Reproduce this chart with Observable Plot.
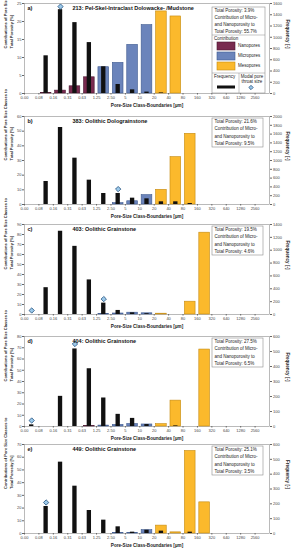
<!DOCTYPE html>
<html><head><meta charset="utf-8">
<script src="https://cdn.jsdelivr.net/npm/d3@7"></script>
<script src="https://cdn.jsdelivr.net/npm/@observablehq/plot@0.6"></script>
<style>
html,body{margin:0;padding:0;background:#fff;}
#chart{position:relative;width:291px;height:550px;overflow:hidden;font-family:"Liberation Sans",Arial,sans-serif;}
#chart .panel{position:absolute;left:0;}
#chart svg{overflow:visible;}
#overlay{position:absolute;left:0;top:0;pointer-events:none;}
</style>
</head><body>
<div id="chart"></div>
<script>
// pore-size class boundaries (µm), 17 classes
const boundaries = ["0.00","0.08","0.16","0.31","0.63","1.25","2.50","5","10","20","40","80","160","320","640","1280","2560"];
const classType = ["Nanopores","Nanopores","Nanopores","Nanopores","Nanopores",
  "Micropores","Micropores","Micropores","Micropores",
  "Mesopores","Mesopores","Mesopores","Mesopores","Mesopores","Mesopores","Mesopores","Mesopores"];
const typeNames = ["Nanopores","Micropores","Mesopores"];
const typeFill = ["#792b4f","#6b84bb","#fbb92c"];
const typeStroke = ["#4a1730","#3e5a8f","#c48a12"];

const panelLetters = ["a)","b)","c)","d)","e)"];
const sampleTitles = ["213: Pel-Skel-Intraclast Dolowacke- /Mudstone","383: Oolithic Dolograinstone","403: Oolithic Grainstone","404: Oolithic Grainstone","449: Oolithic Grainstone"];
const totalPorosity = ["3.9","21.6","19.5","27.5","25.1"];
const microNanoShare = ["55.7","9.5","4.6","6.5","3.5"];
const yTitleLines = ["Contributions of Pore Size Classes to","Total Porosity [%]"];

// contributions of pore-size classes to total porosity [%]
const contribA = [0,0.15,0.8,2.0,4.5,7.3,8.5,13.5,19.0,22.8,21.4,0,0,0,0,0,0];
const contribB = [0,0,0,0,0,0,0.9,2.2,6.4,10.0,32.3,48.2,0,0,0,0,0];
const contribC = [0,0,0,0,0,0.6,1.0,1.8,1.2,0.8,0,12.8,81.8,0,0,0,0];
const contribD = [0,0,0,0,0.3,0.8,1.4,2.2,1.8,2.1,23.0,0,68.4,0,0,0,0];
const contribE = [0,0,0,0,0,0,0.4,0.5,2.6,6.2,0.9,64.9,24.5,0,0,0,0];
// frequency of pore throats [-]
const freqA = [0,670,1490,1260,905,475,160,65,25,10,0,0,0,0,0,0,0];
const freqB = [0,523,1750,1053,553,250,250,144,129,61,61,23,0,0,0,0,0];
const freqC = [0,417,1295,1060,538,177,63,26,12,0,0,0,0,0,0,0,0];
const freqD = [11,0,201,517,385,190,81,54,13,0,4,0,0,0,0,0,0];
const freqE = [0,182,481,319,155,90,45,9,22,16,0,9,0,0,0,0,0];
// modal pore throat size markers (class index, frequency level)
const modeClassA = [2], modeFreqA = [1545];
const modeClassB = [6], modeFreqB = [350];
const modeClassC = [0,5], modeFreqC = [62,240];
const modeClassD = [0,3], modeFreqD = [40,550];
const modeClassE = [1], modeFreqE = [209];
// axis ranges
const leftMax = [25,60,90,80,70], leftStep = [5,10,10,10,10];
const rightMax = [1600,2000,1400,600,600], rightStep = [200,200,200,100,100];

const contribs = [contribA,contribB,contribC,contribD,contribE];
const freqs = [freqA,freqB,freqC,freqD,freqE];
const modeClasses = [modeClassA,modeClassB,modeClassC,modeClassD,modeClassE];
const modeFreqs = [modeFreqA,modeFreqB,modeFreqC,modeFreqD,modeFreqE];

// layout (px): plot top and zero line of each panel
const plotTops = [3,116,224,336,444];
const plotZeros = [93,204,314,426,533];

const fillOf = Object.fromEntries(typeNames.map((t,i)=>[t,typeFill[i]]));
const strokeOf = Object.fromEntries(typeNames.map((t,i)=>[t,typeStroke[i]]));
const FONT = "Liberation Sans, Arial, sans-serif";
const root = document.getElementById("chart");

for (let p = 0; p < 5; p++) {
  const k = leftMax[p] / rightMax[p];
  const bars = contribs[p].map((v,i)=>({cls:i, v, type:classType[i]})).filter(d=>d.v>0);
  const fr = freqs[p].map((f,i)=>({cls:i, f})).filter(d=>d.f>0);
  const modes = modeClasses[p].map((c,j)=>({cls:c, f:modeFreqs[p][j]}));
  const mt = 3, mb = 17;
  const h = plotZeros[p] - plotTops[p];
  const svg = Plot.plot({
    width: 291, height: h + mt + mb,
    marginTop: mt, marginBottom: mb, marginLeft: 24, marginRight: 22,
    x: {domain: [0, 17]},
    y: {domain: [0, leftMax[p]]},
    color: {type: "identity"},
    style: {fontFamily: FONT, fontSize: "4px", color: "#333", background: "transparent", overflow: "visible"},
    marks: [
      Plot.frame({stroke: "#8c8c8c", strokeWidth: 0.6}),
      Plot.rect(bars, {x1: d=>d.cls+0.13, x2: d=>d.cls+0.87, y1: 0, y2: "v",
        fill: d=>fillOf[d.type], stroke: d=>strokeOf[d.type], strokeWidth: 0.6}),
      Plot.rect(fr, {x1: d=>d.cls+0.35, x2: d=>d.cls+0.65, y1: 0, y2: d=>d.f*k, fill: "#111"}),
      Plot.dot(modes, {x: d=>d.cls+0.5, y: d=>d.f*k, symbol: "diamond2", r: 2.4,
        fill: "#9cc9ea", stroke: "#22507d", strokeWidth: 0.8}),
      Plot.axisX(d3.range(17), {tickFormat: i=>boundaries[i], tickSize: 1.5, tickPadding: 1,
        fontSize: 4, label: null, stroke: "#666", fill: "#444"}),
      Plot.axisY(d3.range(0, leftMax[p]+1e-9, leftStep[p]), {anchor: "left", tickSize: 2, tickPadding: 1,
        fontSize: 4, label: null, stroke: "#666", fill: "#444"}),
      Plot.axisY(d3.range(0, rightMax[p]+1e-9, rightStep[p]).map(v=>v*k), {anchor: "right",
        tickFormat: v=>String(Math.round(v/k)), tickSize: 2, tickPadding: 1.5,
        fontSize: 4, label: null, stroke: "#666", fill: "#444"}),
      Plot.text([panelLetters[p]], {frameAnchor: "top-left", dx: 3, dy: 5, lineAnchor: "middle",
        textAnchor: "start", fontWeight: "bold", fontSize: 5.5, fill: "#111"}),
      Plot.text([sampleTitles[p]], {frameAnchor: "top-left", dx: 48, dy: 5, lineAnchor: "middle",
        textAnchor: "start", fontWeight: "bold", fontSize: 5.5, fill: "#111"}),
      Plot.text(["Pore-Size Class-Boundaries [µm]"], {frameAnchor: "bottom", dy: 12.5, lineAnchor: "middle",
        fontWeight: "bold", fontSize: 4.6, fill: "#222"}),
      Plot.text([yTitleLines[0]], {frameAnchor: "left", rotate: -90, dx: -18.5, lineAnchor: "middle",
        fontWeight: "bold", fontSize: 4.0, fill: "#222"}),
      Plot.text([yTitleLines[1]], {frameAnchor: "left", rotate: -90, dx: -13, lineAnchor: "middle",
        fontWeight: "bold", fontSize: 4.0, fill: "#222"}),
      Plot.text(["Frequency [-]"], {frameAnchor: "right", rotate: 90, dx: 18, lineAnchor: "middle",
        fontWeight: "bold", fontSize: 4.6, fill: "#222"})
    ]
  });
  const div = document.createElement("div");
  div.className = "panel";
  div.style.top = (plotTops[p] - mt) + "px";
  div.appendChild(svg);
  root.appendChild(div);
}

// legend / info boxes overlay
const ov = d3.select(root).append("svg").attr("id","overlay").attr("width",291).attr("height",550)
  .style("font-family", FONT);
const fs = 4.5;
function infoLines(g, x, y0, p) {
  const lines = ["Total Porosity: " + totalPorosity[p] + "%", "Contribution of Micro-", "and Nanoporosity to", "Total Porosity: " + microNanoShare[p] + "%"];
  lines.forEach((t,i)=> g.append("text").attr("x", x).attr("y", y0 + i*7.1).attr("font-size", fs)
    .attr("dominant-baseline","middle").attr("fill","#222").text(t));
}
// panel a full legend
{
  const g = ov.append("g");
  g.append("rect").attr("x",212).attr("y",7).attr("width",53).attr("height",86)
    .attr("fill","#fff").attr("stroke","#8c8c8c").attr("stroke-width",0.6);
  infoLines(g, 214.5, 11, 0);
  g.append("line").attr("x1",212).attr("x2",265).attr("y1",35).attr("y2",35).attr("stroke","#8c8c8c").attr("stroke-width",0.5);
  g.append("text").attr("x",214).attr("y",39.3).attr("font-size",fs).attr("dominant-baseline","middle").attr("fill","#222").text("Contribution");
  typeNames.forEach((t,i)=>{
    g.append("rect").attr("x",217).attr("y",42+i*10).attr("width",18).attr("height",8)
      .attr("fill",typeFill[i]).attr("stroke",typeStroke[i]).attr("stroke-width",0.6);
    g.append("text").attr("x",238).attr("y",46+i*10).attr("font-size",fs).attr("dominant-baseline","middle").attr("fill","#222").text(t);
  });
  g.append("line").attr("x1",212).attr("x2",265).attr("y1",73).attr("y2",73).attr("stroke","#8c8c8c").attr("stroke-width",0.5);
  g.append("line").attr("x1",239).attr("x2",239).attr("y1",73).attr("y2",93).attr("stroke","#8c8c8c").attr("stroke-width",0.5);
  g.append("text").attr("x",214).attr("y",77).attr("font-size",fs).attr("dominant-baseline","middle").attr("fill","#222").text("Frequency");
  g.append("text").attr("x",252).attr("y",77).attr("text-anchor","middle").attr("font-size",fs).attr("dominant-baseline","middle").attr("fill","#222").text("Modal pore");
  g.append("text").attr("x",252).attr("y",82).attr("text-anchor","middle").attr("font-size",fs).attr("dominant-baseline","middle").attr("fill","#222").text("throat size");
  g.append("rect").attr("x",217).attr("y",85.5).attr("width",18).attr("height",3).attr("fill","#111");
  g.append("path").attr("transform","translate(251,87.5)").attr("d", d3.symbol(d3.symbolDiamond2, 12)())
    .attr("fill","#9cc9ea").attr("stroke","#22507d").attr("stroke-width",0.8);
}
for (let p = 1; p < 5; p++) {
  const g = ov.append("g");
  const t = plotTops[p];
  g.append("rect").attr("x",212).attr("y",t+2).attr("width",51).attr("height",29)
    .attr("fill","#fff").attr("stroke","#8c8c8c").attr("stroke-width",0.6);
  infoLines(g, 214.5, t+6.2, p);
}
</script>
</body></html>
